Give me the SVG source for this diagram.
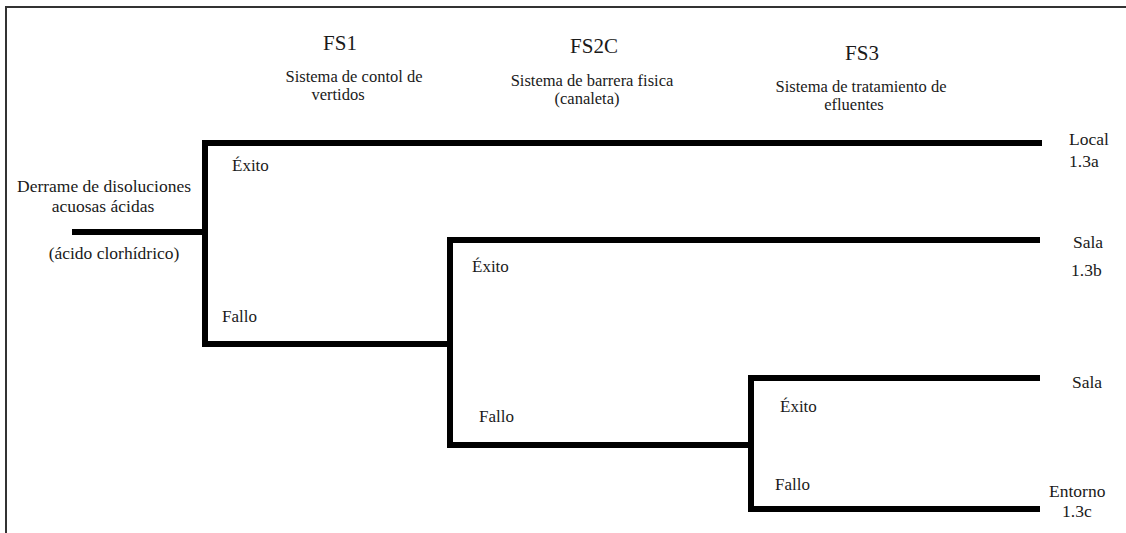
<svg xmlns="http://www.w3.org/2000/svg" width="1126" height="533" viewBox="0 0 1126 533">
<style>
text{font-family:'Liberation Serif','Times New Roman',serif;fill:#1a1a1a;font-size:17.5px;}
.h{font-size:21px;text-anchor:middle;}
.m{text-anchor:middle;}
.sub{font-size:16.5px;text-anchor:middle;}
.l{font-size:17px;}
.br{fill:none;stroke:#000;stroke-width:6;stroke-linejoin:miter;}
</style>
<rect width="1126" height="533" fill="#fff"/>
<g id="frame"><path d="M6,533 V7 H1126" fill="none" stroke="#333" stroke-width="2"/></g>
<g id="headers">
<text class="h" x="340" y="50">FS1</text>
<text class="sub" x="354" y="82">Sistema de contol de</text>
<text class="sub" x="338" y="100">vertidos</text>
<text class="h" x="594" y="53">FS2C</text>
<text class="sub" x="592" y="86">Sistema de barrera fisica</text>
<text class="sub" x="587" y="104">(canaleta)</text>
<text class="h" x="862" y="60">FS3</text>
<text class="sub" x="861" y="92">Sistema de tratamiento de</text>
<text class="sub" x="854" y="110">efluentes</text>
</g>
<g id="initiator">
<text class="m" x="104" y="192">Derrame de disoluciones</text>
<text class="m" x="103" y="212">acuosas ácidas</text>
<text class="m" x="114" y="259">(ácido clorhídrico)</text>
</g>
<g id="connectors">
<path class="br" d="M72,232 H205"/>
<path class="br" d="M1042,143 H205 V344 H450"/>
<path class="br" d="M1040,240 H450 V445 H751"/>
<path class="br" d="M1040,378 H751 V509 H1040"/>
</g>
<g id="branch-labels">
<text class="l" x="232" y="171">Éxito</text>
<text class="l" x="222" y="322">Fallo</text>
<text class="l" x="472" y="272">Éxito</text>
<text class="l" x="479" y="422">Fallo</text>
<text class="l" x="780" y="412">Éxito</text>
<text class="l" x="775" y="490">Fallo</text>
</g>
<g id="outcome-a"><text x="1069" y="145">Local</text><text x="1069" y="167">1.3a</text></g>
<g id="outcome-b"><text x="1073" y="248">Sala</text><text x="1071" y="276">1.3b</text></g>
<g id="outcome-s"><text x="1072" y="388">Sala</text></g>
<g id="outcome-c"><text x="1049" y="497">Entorno</text><text x="1062" y="517">1.3c</text></g>
</svg>
